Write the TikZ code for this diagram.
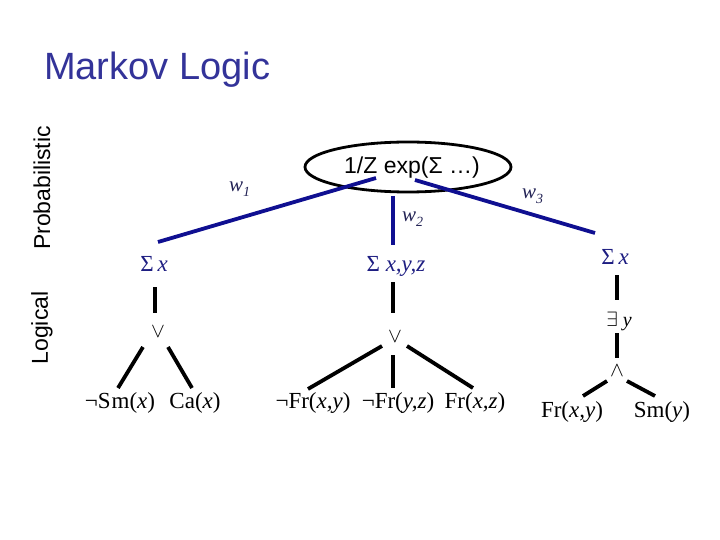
\documentclass[tikz,border=0pt]{standalone}
\usepackage{fontspec}
\usetikzlibrary{shapes.geometric}
\setmainfont{Liberation Serif}
\newfontfamily\arialfont{Liberation Sans}
\definecolor{titleblue}{RGB}{51,51,153}
\definecolor{lineblue}{RGB}{15,15,145}
\definecolor{labblue}{RGB}{30,30,130}
\definecolor{wcol}{RGB}{35,35,85}
\begin{document}
\begin{tikzpicture}[x=1pt,y=-1pt,
  blueline/.style={draw=lineblue, line width=3.8pt},
  blackline/.style={draw=black, line width=3.8pt},
  lab/.style={inner sep=0pt, anchor=base, font=\fontsize{23}{26}\selectfont},
  sumlab/.style={lab, text=labblue},
  wlab/.style={inner sep=0pt, anchor=base west, text=wcol, font=\fontsize{21}{24}\selectfont\itshape},
  oplab/.style={inner sep=0pt, font=\fontsize{20}{24}\selectfont},
  side/.style={inner sep=0pt, rotate=90, font=\arialfont\fontsize{23}{26}\selectfont}]
\useasboundingbox (0,0) rectangle (720,540);
% title and side labels
\node[inner sep=0pt, anchor=base west, text=titleblue, font=\arialfont\fontsize{38}{42}\selectfont] (title) at (44,80) {Markov Logic};
\node[side] (prob) at (42,188) {Probabilistic};
\node[side] (logi) at (42,328) {Logical};
% root
\node[draw=black, line width=2.8pt, ellipse, minimum width=206pt, minimum height=50pt, inner sep=0pt] (root) at (408,167) {};
\node[inner sep=0pt, anchor=base, font=\arialfont\fontsize{23}{25}\selectfont] (roottxt) at (412,174) {1/Z exp(Σ …)};
% sums
\node[sumlab] (s1) at (154,271) {Σ\,\textit{x}};
\node[sumlab] (s2) at (396,271) {Σ \textit{x,y,z}};
\node[sumlab] (s3) at (615,264) {Σ\,\textit{x}};
% weights
\node[wlab] (w1) at (229,192) {w\raisebox{-5pt}{\fontsize{14}{16}\selectfont 1}};
\node[wlab] (w2) at (402,222) {w\raisebox{-5pt}{\fontsize{14}{16}\selectfont 2}};
\node[wlab] (w3) at (522,199) {w\raisebox{-5pt}{\fontsize{14}{16}\selectfont 3}};
% blue edges
\coordinate (r1) at (376,178);
\coordinate (e1) at (158,242);
\coordinate (r2) at (393,196);
\coordinate (e2) at (393,245);
\coordinate (r3) at (415,180);
\coordinate (e3) at (595,233);
\draw[blueline] (r1) -- (e1);
\draw[blueline] (r2) -- (e2);
\draw[blueline] (r3) -- (e3);
% left subtree
\node[oplab] (or1) at (158,332) {$\vee$};
\draw[blackline] (155,287) coordinate (a1) -- (155,313) coordinate (a2);
\draw[blackline] (143,347) coordinate (b1) -- (118,388) coordinate (b2);
\draw[blackline] (168,347) coordinate (c1) -- (192,388) coordinate (c2);
\node[lab] (l1) at (120,408) {¬S\kern1pt m(\textit{x})};
\node[lab] (l2) at (195,408) {Ca(\textit{x})};
% middle subtree
\node[oplab] (or2) at (395,337) {$\vee$};
\draw[blackline] (393,282) coordinate (d1) -- (393,313) coordinate (d2);
\draw[blackline] (382,346) coordinate (f1) -- (308,389) coordinate (f2);
\draw[blackline] (393,355) coordinate (g1) -- (393,388) coordinate (g2);
\draw[blackline] (407,346) coordinate (h1) -- (473,388) coordinate (h2);
\node[lab] (m1) at (313,408) {¬Fr(\textit{x,y})};
\node[lab] (m2) at (398,408) {¬Fr(\textit{y,z})};
\node[lab] (m3) at (475,408) {Fr(\textit{x,z})};
% right subtree
\draw[blackline] (617,275) coordinate (k1) -- (617,300) coordinate (k2);
\node[oplab] (ex) at (619,321) {$\exists$ \textit{y}};
\draw[blackline] (617,333) coordinate (k3) -- (617,358) coordinate (k4);
\node[oplab] (and) at (617,371) {$\wedge$};
\draw[blackline] (607,381) coordinate (n1) -- (583,396) coordinate (n2);
\draw[blackline] (627,381) coordinate (p1) -- (655,396) coordinate (p2);
\node[lab] (q1) at (572,417) {Fr(\textit{x,y})};
\node[lab] (q2) at (662,417) {Sm(\textit{y})};
\end{tikzpicture}
\end{document}
